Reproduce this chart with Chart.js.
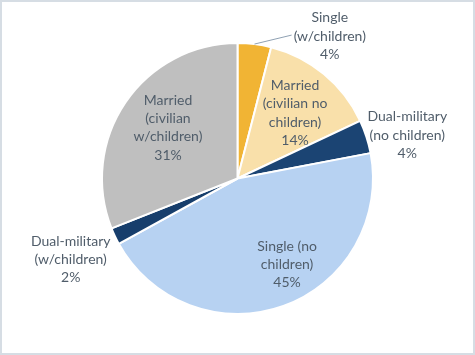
<!DOCTYPE html>
<html>
<head>
<meta charset="utf-8">
<script src="https://cdn.jsdelivr.net/npm/chart.js@4"></script>
<style>
  html, body { margin: 0; padding: 0; background: #fff; }
  canvas { display: block; }
</style>
</head>
<body>
<canvas id="c" width="475" height="355"></canvas>
<script>
// ---- data ----
const categories = [
  'Single (w/children)',
  'Married (civilian no children)',
  'Dual-military (no children)',
  'Single (no children)',
  'Dual-military (w/children)',
  'Married (civilian w/children)'
];
const values = [4, 14, 4, 45, 2, 31];
const labelLines = [
  ['Single', '(w/children)'],
  ['Married', '(civilian no', 'children)'],
  ['Dual-military', '(no children)'],
  ['Single (no', 'children)'],
  ['Dual-military', '(w/children)'],
  ['Married', '(civilian', 'w/children)']
];

// ---- styling ----
const colors = ['#F1B434', '#F9E0AA', '#1B4473', '#B7D2F2', '#173E6C', '#BFBFBF'];
const textColor = '#505d6a';
const fontSpec = '14px Lato, "Open Sans", sans-serif';
const lineH = 18.3;
// label centres relative to pie centre, in units of the radius
const placement = [
  { fx: 0.681, fy: -1.051, leader: true },
  { fx: 0.425, fy: -0.484 },
  { fx: 1.253, fy: -0.319 },
  { fx: 0.366, fy: 0.634 },
  { fx: -1.231, fy: 0.597 },
  { fx: -0.513, fy: -0.374 }
];

const labelPlugin = {
  id: 'sliceLabels',
  beforeDraw(chart) {
    const ctx = chart.ctx;
    ctx.save();
    ctx.fillStyle = '#ffffff';
    ctx.fillRect(0, 0, chart.width, chart.height);
    ctx.strokeStyle = '#d6dde4';
    ctx.lineWidth = 2;
    ctx.strokeRect(1, 1, chart.width - 2, chart.height - 2);
    ctx.restore();
  },
  afterDatasetsDraw(chart) {
    const ctx = chart.ctx;
    const meta = chart.getDatasetMeta(0);
    ctx.save();
    ctx.font = fontSpec;
    ctx.fillStyle = textColor;
    ctx.textAlign = 'center';
    ctx.textBaseline = 'middle';
    meta.data.forEach((arc, i) => {
      const p = placement[i];
      const R = arc.outerRadius;
      const cx = arc.x, cy = arc.y;
      const lines = labelLines[i].concat([values[i] + '%']);
      const x = cx + p.fx * R;
      const y = cy + p.fy * R;
      const top = y - (lines.length - 1) * lineH / 2;
      lines.forEach((t, k) => ctx.fillText(t, x, top + k * lineH));
      if (p.leader) {
        const mid = (arc.startAngle + arc.endAngle) / 2;
        const sx = cx + Math.cos(mid) * R;
        const sy = cy + Math.sin(mid) * R;
        const w = ctx.measureText(lines[1]).width;
        const ex = x - w / 2 - 2;
        const ey = top + lineH * 1 - 1;
        ctx.strokeStyle = '#8fa1b3';
        ctx.lineWidth = 1;
        ctx.beginPath();
        ctx.moveTo(sx, sy);
        ctx.lineTo(ex, ey);
        ctx.stroke();
      }
    });
    ctx.restore();
  }
};

new Chart(document.getElementById('c'), {
  type: 'pie',
  data: {
    labels: categories,
    datasets: [{
      data: values,
      backgroundColor: colors,
      borderColor: '#ffffff',
      borderWidth: 2
    }]
  },
  options: {
    responsive: false,
    animation: false,
    layout: { padding: { top: 42, bottom: 40, left: 0, right: 0 } },
    plugins: {
      legend: { display: false },
      tooltip: { enabled: false }
    }
  },
  plugins: [labelPlugin]
});
</script>
</body>
</html>
